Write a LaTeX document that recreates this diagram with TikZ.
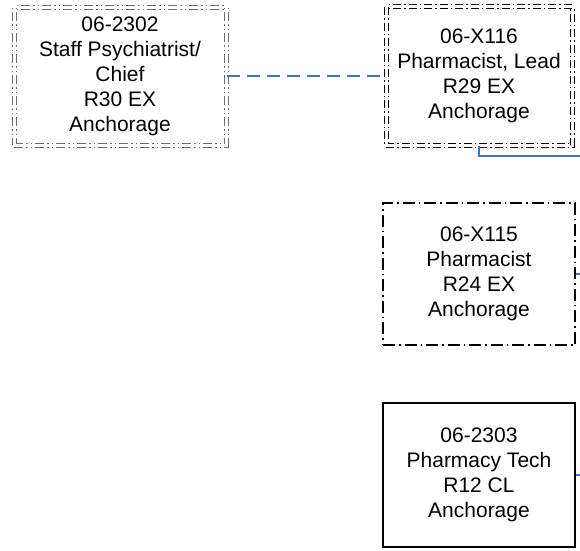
\documentclass[tikz,border=0pt]{standalone}
\usepackage{fontspec}
\setmainfont{Liberation Sans}
\definecolor{orgBlue}{HTML}{4472C4}
\definecolor{orgGray}{HTML}{6E6E6E}
\begin{document}
\begin{tikzpicture}[x=1pt,y=-1pt,
  post/.style={align=center,inner sep=0pt,fill=white,font=\fontsize{21}{25}\selectfont,minimum width=192pt},
  link/.style={orgBlue,line width=1.5pt}]
  \useasboundingbox (0,0) rectangle (580,550);
  \node[post,draw=orgGray,double,double distance=3pt,line width=1pt,dash pattern=on 9pt off 3pt on 1.5pt off 3pt on 1.5pt off 3pt,minimum width=212pt,minimum height=138pt] (a) at (120,76) {06-2302\\Staff Psychiatrist/\\Chief\\R30 EX\\Anchorage};
  \node[post,draw=black,double,double distance=3pt,line width=1pt,dash pattern=on 8pt off 3pt on 1.5pt off 3pt,minimum width=186pt,minimum height=139pt] (b) at (479,76) {06-X116\\Pharmacist, Lead\\R29 EX\\Anchorage};
  \node[post,draw=black,line width=1.3pt,dash pattern=on 12pt off 4pt on 1.5pt off 4pt,minimum height=142pt] (c) at (479,274) {06-X115\\Pharmacist\\R24 EX\\Anchorage};
  \node[post,draw=black,line width=1.3pt,minimum height=144pt] (d) at (479,475) {06-2303\\Pharmacy Tech\\R12 CL\\Anchorage};
  \coordinate (e1) at (580,156);
  \coordinate (e2) at (580,274);
  \coordinate (e3) at (580,475);
  \draw[link,dash pattern=on 13pt off 7pt] (a) -- (b);
  \draw[link] (b.south) |- (e1);
  \draw[link] (c) -- (e2);
  \draw[link] (d) -- (e3);
\end{tikzpicture}
\end{document}
